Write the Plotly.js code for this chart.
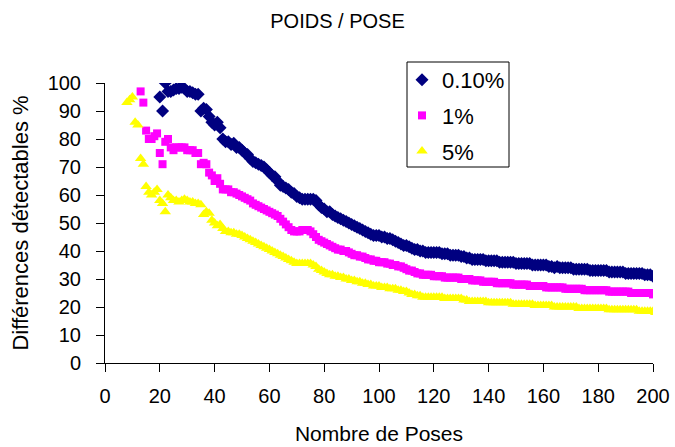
<!DOCTYPE html>
<html>
<head>
<meta charset="utf-8">
<script src="https://cdn.plot.ly/plotly-3.0.1.min.js"></script>
<style>html,body{margin:0;padding:0;background:#fff;}#chart{width:675px;height:447px;}</style>
</head>
<body>
<div id="chart"></div>
<script>
// Series labels
const seriesNames = ["0.10%", "1%", "5%"];

// First "Nombre de Poses" value of each series (one point per pose count up to 200)
const start010 = 20;
const start1 = 13;
const start5 = 8;

// Différences détectables % — 0.10%
const y010 = [
  95, 90, 100, 97, 97, 97.5, 98, 98, 98.5, 98, 97, 97, 96.5, 96, 96,
  90, 91, 90.5, 88, 86, 85, 86, 84, 80, 79, 79, 78, 78.5, 77, 77,
  76, 75, 74.5, 73, 72, 71.5, 71, 70.5, 70, 69, 68, 67, 66.5, 65, 63.5,
  63, 62.5, 62, 61, 60.5, 59.5, 59, 58.5, 58.5, 58.5, 58.5, 58.5, 58, 56.5, 55.5,
  55, 54, 54, 53, 52.5, 52, 51.5, 51, 50.5, 50, 49.5, 49, 48.5, 48, 47.5,
  47, 46.5, 46, 45.5, 45.5, 45.5, 45, 45, 44.5, 44.5, 44, 43.5, 43, 42.5, 42,
  42, 41.5, 41, 40.5, 40.5, 40, 40, 39.5, 39.5, 39.5, 39.5, 39.5, 39.5, 39, 39,
  39, 38.5, 38.5, 38.5, 38.5, 38, 38, 37.5, 37.5, 37, 37, 37, 37, 37, 36.5,
  36.5, 36.5, 36.5, 36.5, 36, 36, 36, 36, 36, 36, 35.5, 35.5, 35.5, 35.5, 35.5,
  35.5, 35, 35, 35, 35, 35, 35, 34.5, 34.5, 34, 34.5, 34, 34, 34, 34,
  34, 33.5, 33.5, 33.5, 33.5, 33.5, 33.5, 33, 33, 33, 33, 33, 33, 33, 32.5,
  32.5, 32.5, 32.5, 32.5, 32.5, 32, 32, 32, 32, 32, 32, 32, 31.5, 31.5, 31.5, 31
];

// Différences détectables % — 1%
const y1 = [
  97, 93, 83, 80, 80, 81, 82, 75, 71, 79, 80, 77, 76, 77,
  77, 77, 77, 76, 76, 76, 75, 75,
  71, 71.5, 71, 68, 67, 65, 66, 64, 62, 62, 62, 61, 61, 60.5, 60,
  59.5, 59, 58.5, 58, 57, 56.5, 56, 55.5, 55, 54.5, 54, 53.5, 53, 52.5, 51.5,
  50.5, 49.5, 48.5, 47.5, 47, 47, 47, 47.5, 47.5, 47.5, 47, 46, 45, 44, 43.5,
  43, 42.5, 42, 41.5, 41, 40.5, 40.5, 40, 40, 39.5, 39, 38.5, 38.5, 38, 38,
  37.5, 37, 37, 36.5, 36.5, 36, 36, 36, 35.5, 35.5, 35, 35, 34.5, 34.5, 34,
  33.5, 33, 33, 32.5, 32, 32, 31.5, 31.5, 31.5, 31.5, 31, 31, 31,
  31, 30.5, 30.5, 30.5, 30.5, 30.5, 30.5, 30,
  30, 30, 30, 29.5, 29.5, 29.5, 29.5, 29, 29, 29,
  29, 29, 28.5, 28.5, 28.5, 28.5, 28.5, 28.5, 28, 28,
  28, 28, 28, 28, 27.5, 27.5, 27.5, 27.5, 27.5, 27.5,
  27, 27, 27, 27, 27, 27, 27, 26.5, 26.5, 26.5,
  26.5, 26.5, 26.5, 26.5, 26, 26, 26, 26, 26, 26,
  26, 26, 26, 25.5, 25.5, 25.5, 25.5, 25.5, 25.5, 25.5,
  25.5, 25, 25, 25, 25, 25, 25, 25, 25, 24.5
];

// Différences détectables % — 5%
const y5 = [
  93, 94, 95, 86, 85, 73, 71, 63, 61, 60, 61, 62, 58, 57, 54,
  60, 59, 58, 58, 57.5, 58, 58.5, 58, 57.5, 57.5, 57, 57, 56.5,
  53, 54, 53.5, 51, 50, 49, 49.5, 48, 47, 47, 46.5, 46.5, 46, 46, 45.5,
  45, 44.5, 44, 43.5, 43, 42.5, 42, 41.5, 41, 40.5, 40, 39.5, 39, 38.5, 38,
  37.5, 37, 36.5, 36, 35.5, 35.5, 35.5, 35.5, 35.5, 35.5, 35, 34.5, 33.5, 33, 32.5,
  32, 31.5, 31.5, 31, 31, 30.5, 30.5, 30, 30, 29.5, 29.5, 29, 29, 28.5, 28.5,
  28, 28, 27.5, 27.5, 27.5, 27, 27, 27, 26.5, 26.5, 26.5, 26, 26, 25.5, 25.5,
  25, 24.5, 24.5, 24, 24, 23.5,
  23.5, 23.5, 23.5, 23.5, 23.5, 23.5, 23.5, 23, 23, 23, 23, 23, 23, 23, 22.5,
  22.5, 22, 22, 22, 22, 22, 22, 22, 21.5, 21.5, 21.5, 21.5, 21.5, 21.5, 21.5,
  21.5, 21.5, 21, 21, 21, 21, 21, 21, 21, 21, 20.5, 20.5, 20.5, 20.5, 20.5,
  20.5, 20.5, 20, 20, 20, 20, 20, 20, 20, 20, 20, 19.5, 19.5, 19.5, 19.5,
  19.5, 19.5, 19.5, 19.5, 19.5, 19.5, 19.5, 19, 19, 19, 19, 19, 19, 19, 19,
  19, 19, 19, 18.5, 18.5, 18.5, 18.5, 18.5, 18.5, 18
];

// Axis ticks
const xTicks = [0, 20, 40, 60, 80, 100, 120, 140, 160, 180, 200];
const yTicks = [0, 10, 20, 30, 40, 50, 60, 70, 80, 90, 100];

function poses(first, values) {
  return values.map((_, i) => first + i);
}

const FONT = "Liberation Sans, Arial, Helvetica, sans-serif";

const traces = [
  {x: poses(start010, y010), y: y010, name: seriesNames[0], legendgroup: "a",
   type: "scatter", mode: "markers",
   marker: {symbol: "diamond", size: 10, color: "#000080"}},
  {x: poses(start1, y1), y: y1, name: seriesNames[1], legendgroup: "b",
   type: "scatter", mode: "markers",
   marker: {symbol: "square", size: 8, color: "#FF00FF"}},
  {x: poses(start5, y5), y: y5, name: seriesNames[2], legendgroup: "c",
   type: "scatter", mode: "markers",
   marker: {symbol: "triangle-up", size: 10, color: "#FFFF00"}}
];

// plot area in pixels: x 105..653, y 83..363
const px = v => (v - 105) / 548;
const py = v => (363 - v) / 280;

const layout = {
  width: 675, height: 447,
  margin: {l: 105, r: 22, t: 83, b: 84},
  paper_bgcolor: "#fff", plot_bgcolor: "#fff",
  font: {family: FONT, size: 18, color: "#000"},
  showlegend: true,
  title: {text: "POIDS / POSE", font: {family: FONT, size: 20, color: "#000"},
          x: 0.5, xref: "container", y: 1 - 21 / 447, yref: "container", yanchor: "middle"},
  xaxis: {
    range: [0, 200], tickvals: xTicks, ticktext: xTicks.map(String),
    showgrid: false, zeroline: false, showline: true, linecolor: "#000", linewidth: 1,
    ticks: "outside", ticklen: 8, tickcolor: "#000", tickwidth: 1,
    tickfont: {family: FONT, size: 20, color: "#000"},
    ticklabelstandoff: 7,
    title: {text: "Nombre de Poses", font: {family: FONT, size: 21, color: "#000"}, standoff: 20},
    fixedrange: true
  },
  yaxis: {
    range: [0, 100], tickvals: yTicks, ticktext: yTicks.map(String),
    showgrid: false, zeroline: false, showline: true, linecolor: "#000", linewidth: 1,
    ticks: "outside", ticklen: 8, tickcolor: "#000", tickwidth: 1,
    tickfont: {family: FONT, size: 20, color: "#000"},
    ticklabelstandoff: 11,
    title: {text: "Différences détectables %", font: {family: FONT, size: 22, color: "#000"}, standoff: 12},
    fixedrange: true
  },
  legend: {
    x: px(402), y: py(59), xanchor: "left", yanchor: "top",
    bgcolor: "rgba(0,0,0,0)", borderwidth: 0,
    font: {family: FONT, size: 22, color: "#000"},
    tracegroupgap: 4, itemwidth: 30
  },
  shapes: [{
    type: "rect", xref: "paper", yref: "paper",
    x0: px(407), x1: px(509), y0: py(167), y1: py(62),
    line: {color: "#000", width: 1}, fillcolor: "rgba(0,0,0,0)", layer: "below"
  }]
};

Plotly.newPlot("chart", traces, layout, {staticPlot: true, displayModeBar: false});
</script>
</body>
</html>
